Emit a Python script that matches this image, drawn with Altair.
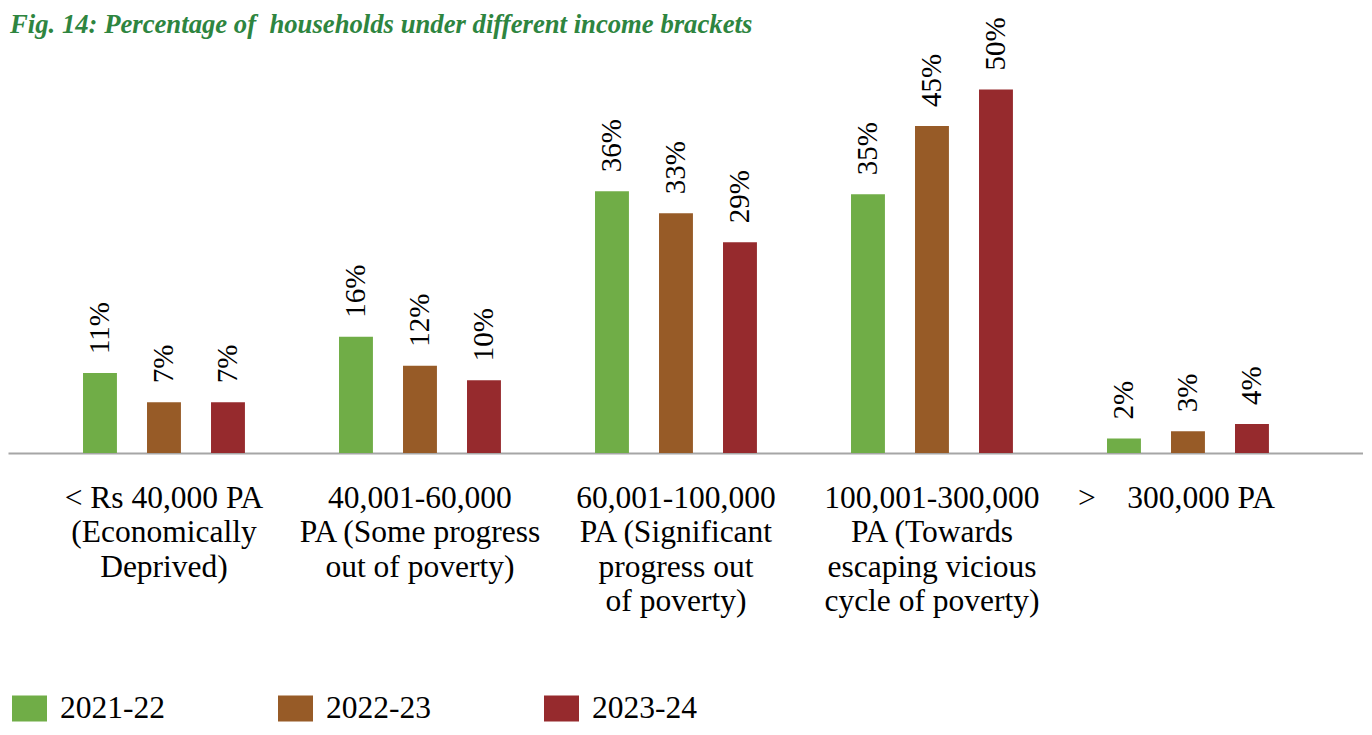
import altair as alt
import pandas as pd

categories = [
    "< Rs 40,000 PA|(Economically|Deprived)",
    "40,001-60,000|PA (Some progress|out of poverty)",
    "60,001-100,000|PA (Significant|progress out|of poverty)",
    "100,001-300,000|PA (Towards|escaping vicious|cycle of poverty)",
    ">\u00a0\u00a0\u00a0\u00a0300,000 PA\u2800",
]
years = ["2021-22", "2022-23", "2023-24"]
v_2021 = [11, 16, 36, 35.6, 2]
v_2022 = [7, 12, 33, 45, 3]
v_2023 = [7, 10, 29, 50, 4]
lab_2021 = ["11%", "16%", "36%", "35%", "2%"]
lab_2022 = ["7%", "12%", "33%", "45%", "3%"]
lab_2023 = ["7%", "10%", "29%", "50%", "4%"]
colors = ["#70AD47", "#975B27", "#962A2D"]

rows = []
for yr, vals, labs in zip(years, [v_2021, v_2022, v_2023], [lab_2021, lab_2022, lab_2023]):
    for c, v, l in zip(categories, vals, labs):
        rows.append({"cat": c, "year": yr, "value": v, "label": l})
df = pd.DataFrame(rows)

FONT = "Liberation Serif"

x = alt.X(
    "cat:N",
    sort=categories,
    scale=alt.Scale(paddingInner=0, paddingOuter=0.1465, align=0.373),
    axis=alt.Axis(
        title=None,
        labelAngle=0,
        ticks=False,
        domainColor="#A6A6A6",
        domainWidth=2,
        labelFont=FONT,
        labelFontSize=31.5,
        labelColor="#000000",
        labelPadding=29,
        labelLineHeight=34.5,
        labelBaseline="top",
        labelLimit=500,
        labelExpr="split(datum.label, '|')",
    ),
)
xo = alt.XOffset("year:N", sort=years, scale=alt.Scale(paddingInner=0.47, paddingOuter=0.735))
y = alt.Y("value:Q", scale=alt.Scale(domain=[0, 56], nice=False, zero=True), axis=None)

base = alt.Chart(df)
bars = base.mark_bar().encode(
    x=x,
    xOffset=xo,
    y=y,
    color=alt.Color(
        "year:N",
        sort=years,
        scale=alt.Scale(domain=years, range=colors),
        legend=alt.Legend(
            title=None,
            orient="none",
            legendX=4,
            legendY=645,
            direction="horizontal",
            symbolType="M-1,-0.74H1V0.74H-1Z",
            symbolSize=1225,
            symbolStrokeWidth=0,
            symbolOpacity=1,
            labelFont=FONT,
            labelFontSize=31.5,
            labelColor="#000000",
            labelOffset=13,
            columnPadding=113,
            labelLimit=300,
        ),
    ),
)
texts = base.mark_text(
    angle=270, align="left", baseline="middle", dx=19, font=FONT, fontSize=29, color="#000000"
).encode(x=x, xOffset=xo, y=y, text="label:N")

chart = (
    alt.layer(bars, texts)
    .properties(
        width=1355,
        height=407,
        autosize=alt.AutoSizeParams(type="none"),
        padding={"left": 0, "top": 38, "right": 0, "bottom": 272},
        title=alt.TitleParams(
            "Fig. 14: Percentage of \u00a0households under different income brackets",
            anchor="start",
            frame="group",
            font=FONT,
            fontSize=26.7,
            fontStyle="italic",
            fontWeight="bold",
            color="#2E8540",
            offset=0,
            dy=21,
            dx=2,
        ),
    )
    .configure(font=FONT)
    .configure_text(font=FONT)
    .configure_view(stroke=None)
)

chart.save("out.html", embed_options={"renderer": "svg", "actions": False})
